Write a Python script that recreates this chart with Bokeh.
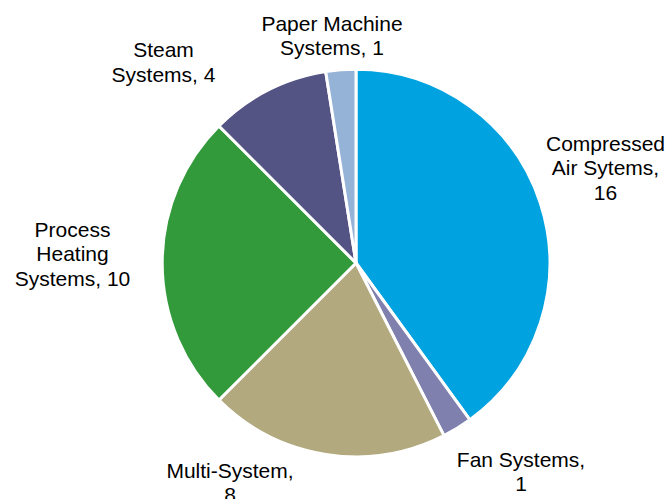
import numpy as np
from bokeh.plotting import figure
from bokeh.models import ColumnDataSource, Range1d
from bokeh.core.properties import value
from bokeh.embed import file_html
from bokeh.resources import INLINE

# ---- data ----
categories = ["Compressed\nAir Sytems,\n16", "Fan Systems,\n1", "Multi-System,\n8",
              "Process\nHeating\nSystems, 10", "Steam\nSystems, 4", "Paper Machine\nSystems, 1"]
values = [16, 1, 8, 10, 4, 1]
colors = ["#00A2DF", "#7F80AE", "#B2A97E", "#339A3C", "#535384", "#95B3D7"]

# ---- layout (pixel positions in the page) ----
W, H = 668, 499
label_pos = [(605, 151), (520.5, 467), (229.5, 478), (72, 237), (163, 57.5), (331.5, 31)]
cx_img, cy_img, R = 355.5, 262.5, 193.8

def to_data(x, y):
    return x, H - y

p = figure(width=W, height=H, output_backend="svg", toolbar_location=None,
           x_range=Range1d(0, W), y_range=Range1d(0, H), min_border=0)
p.axis.visible = False
p.grid.visible = False
p.outline_line_color = None
p.background_fill_color = "white"

vals = np.array(values, dtype=float)
total = vals.sum()
cum = np.concatenate([[0], np.cumsum(vals)])
start = np.pi / 2 - cum[:-1] / total * 2 * np.pi
end = np.pi / 2 - cum[1:] / total * 2 * np.pi
cx, cy = to_data(cx_img, cy_img)

src = ColumnDataSource(dict(start=start, end=end, color=colors, label=categories))
p.wedge(x=cx, y=cy, radius=R, start_angle="start", end_angle="end", direction="clock",
        fill_color="color", line_color="white", line_width=3, source=src)

lx = [to_data(x, y)[0] for x, y in label_pos]
ly = [to_data(x, y - 20)[1] for x, y in label_pos]
tsrc = ColumnDataSource(dict(x=lx, y=ly, text=categories))
p.text(x="x", y="y", text="text", source=tsrc, text_align="center", text_baseline="top",
       text_font=value("Liberation Sans"), text_font_size="21px", text_color="#000000",
       text_line_height=1.08)

open("out.html", "w").write(file_html(p, INLINE))
